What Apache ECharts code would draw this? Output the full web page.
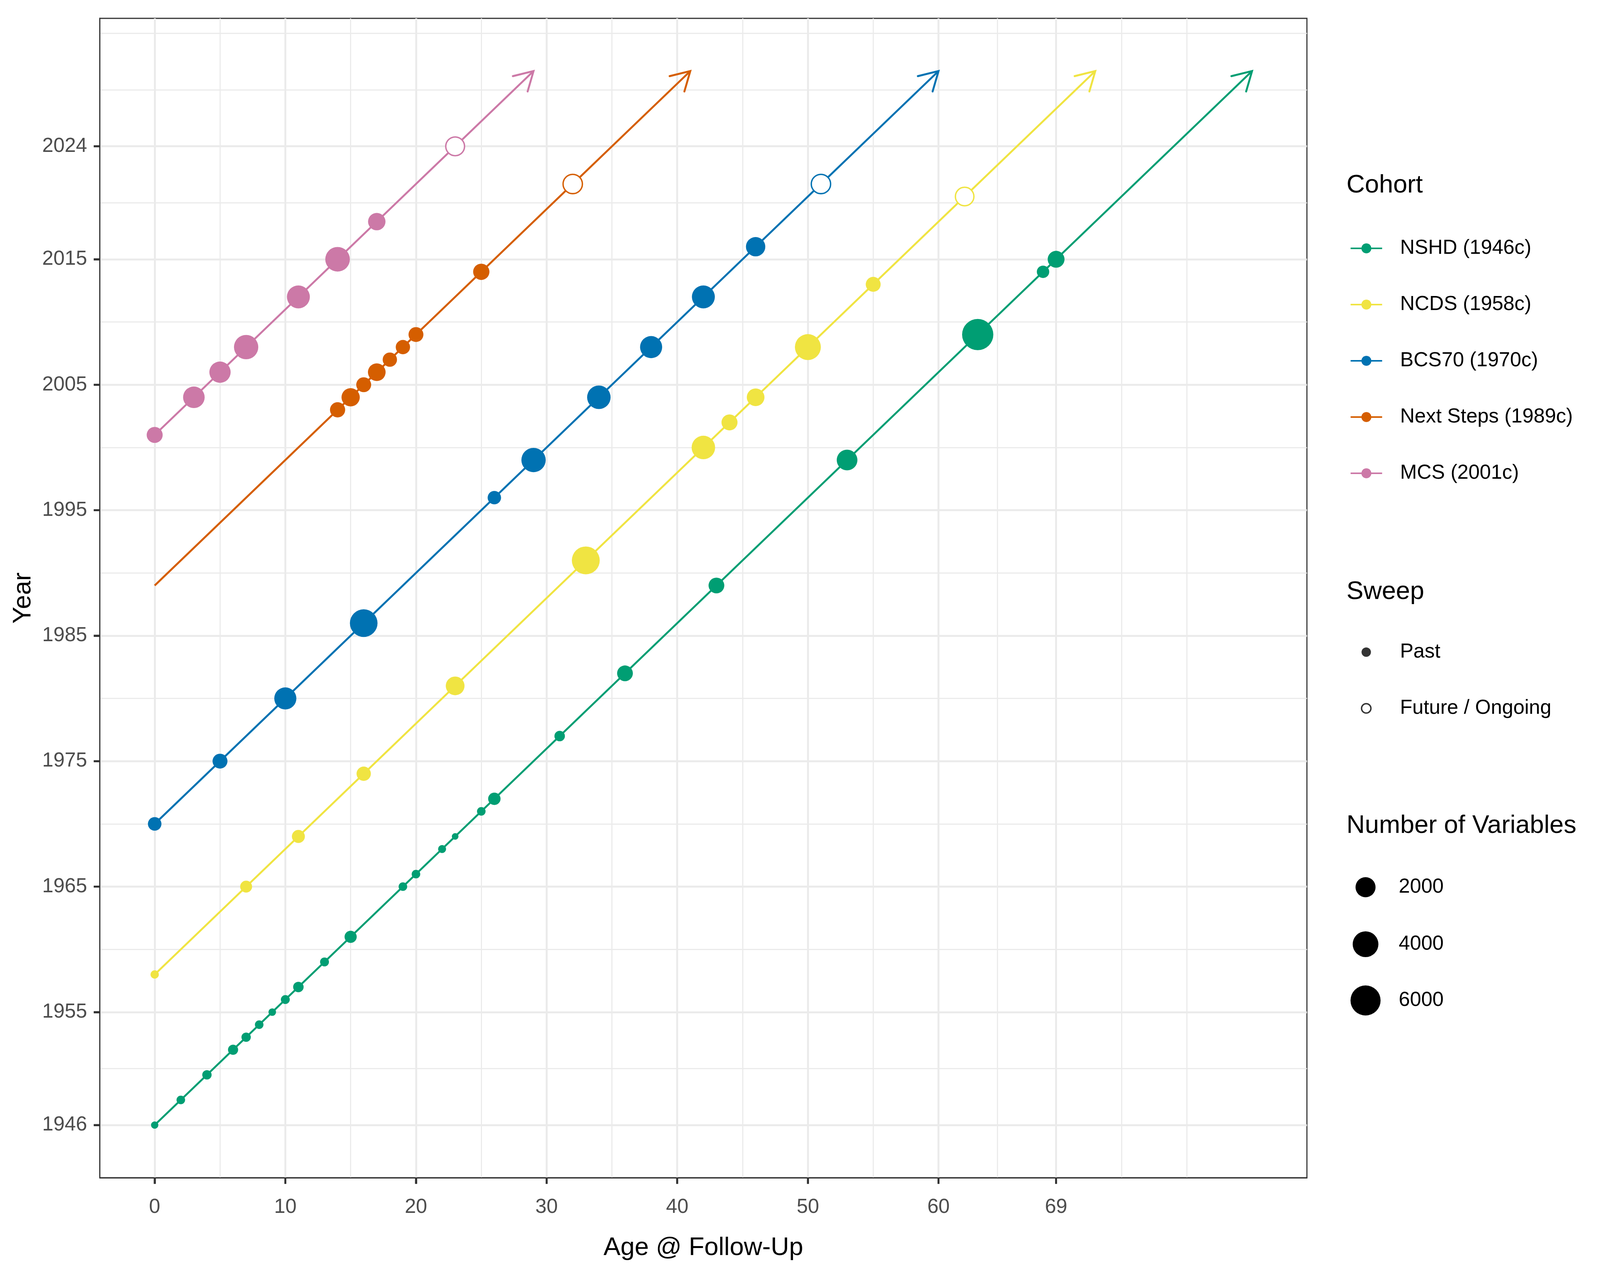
<!DOCTYPE html>
<html>
<head>
<meta charset="utf-8">
<title>Cohort sweeps by age and year</title>
<script src="https://cdn.jsdelivr.net/npm/echarts@6/dist/echarts.min.js"></script>
<style>
  html, body { margin: 0; padding: 0; background: #fff; overflow: hidden; }
  #chart { width: 100vw; height: 100vh; }
</style>
</head>
<body>
<div id="chart"></div>
<script>
'use strict';

/* Cohorts */
const cohorts = ['NSHD (1946c)', 'NCDS (1958c)', 'BCS70 (1970c)', 'Next Steps (1989c)', 'MCS (2001c)'];
const birthYears = [1946, 1958, 1970, 1989, 2001];
const colours = ['#009E73', '#F0E442', '#0072B2', '#D55E00', '#CC79A7'];
const lineEndYear = 2030;

/* Sweeps: age at follow-up, calendar year, number of variables, past (0) / future (1) */
const nshdAges = [0, 2, 4, 6, 7, 8, 9, 10, 11, 13, 15, 19, 20, 22, 23, 25, 26, 31, 36, 43, 53, 63, 68, 69];
const nshdYears = [1946, 1948, 1950, 1952, 1953, 1954, 1955, 1956, 1957, 1959, 1961, 1965, 1966, 1968, 1969, 1971, 1972, 1977, 1982, 1989, 1999, 2009, 2014, 2015];
const nshdVars = [65, 100, 140, 190, 140, 100, 70, 115, 220, 115, 390, 100, 100, 80, 60, 100, 420, 220, 960, 960, 2200, 6600, 420, 1190];
const nshdFuture = [0, 0, 0, 0, 0, 0, 0, 0, 0, 0, 0, 0, 0, 0, 0, 0, 0, 0, 0, 0, 0, 0, 0, 0];

const ncdsAges = [0, 7, 11, 16, 23, 33, 42, 44, 46, 50, 55, 62];
const ncdsYears = [1958, 1965, 1969, 1974, 1981, 1991, 2000, 2002, 2004, 2008, 2013, 2020];
const ncdsVars = [90, 360, 500, 700, 1650, 4950, 3130, 1010, 1380, 4100, 800, 1960];
const ncdsFuture = [0, 0, 0, 0, 0, 0, 0, 0, 0, 0, 0, 1];

const bcsAges = [0, 5, 10, 16, 26, 29, 34, 38, 42, 46, 51];
const bcsYears = [1970, 1975, 1980, 1986, 1996, 1999, 2004, 2008, 2012, 2016, 2021];
const bcsVars = [575, 800, 2650, 4830, 555, 3440, 3130, 2650, 2930, 1810, 2200];
const bcsFuture = [0, 0, 0, 0, 0, 0, 0, 0, 0, 0, 1];

const nsAges = [14, 15, 16, 17, 18, 19, 20, 25, 32];
const nsYears = [2003, 2004, 2005, 2006, 2007, 2008, 2009, 2014, 2021];
const nsVars = [850, 1520, 800, 1380, 700, 700, 800, 1070, 2200];
const nsFuture = [0, 0, 0, 0, 0, 0, 0, 0, 1];

const mcsAges = [0, 3, 5, 7, 11, 14, 17, 23];
const mcsYears = [2001, 2004, 2006, 2008, 2012, 2015, 2018, 2024];
const mcsVars = [1010, 2470, 2380, 3440, 2930, 3550, 1320, 2040];
const mcsFuture = [0, 0, 0, 0, 0, 0, 0, 1];

/* Axis breaks */
const ageTicks = [0, 10, 20, 30, 40, 50, 60, 69];
const ageMinor = [5, 15, 25, 35, 45, 55, 64.5, 74, 79];
const yearTicks = [1946, 1955, 1965, 1975, 1985, 1995, 2005, 2015, 2024];
const yearMinor = [1950.5, 1960, 1970, 1980, 1990, 2000, 2010, 2019.5, 2028.5, 2033];
const ageRange = [-4.2, 88.2];
const yearRange = [1941.8, 2034.2];

/* Size legend breaks */
const sizeBreaks = [2000, 4000, 6000];

const sweeps = [
  { ages: nshdAges, years: nshdYears, vars: nshdVars, future: nshdFuture },
  { ages: ncdsAges, years: ncdsYears, vars: ncdsVars, future: ncdsFuture },
  { ages: bcsAges, years: bcsYears, vars: bcsVars, future: bcsFuture },
  { ages: nsAges, years: nsYears, vars: nsVars, future: nsFuture },
  { ages: mcsAges, years: mcsYears, vars: mcsVars, future: mcsFuture },
];

const el = document.getElementById('chart');
// layout measured on a 5787 x 3283 canvas; scale to whatever the window really is
const sx = el.clientWidth / 5787;
const sy = el.clientHeight / 3283;
const s = Math.min(sx, sy);
const X = (v) => v * sx;
const Y = (v) => v * sy;
const P = (v) => v * s;

const FONT = '"Liberation Sans", Arial, Helvetica, sans-serif';

// area-style size scale, like ggplot's scale_size (diameter grows with sqrt)
const allVars = [].concat(nshdVars, ncdsVars, bcsVars, nsVars, mcsVars);
const vMin = Math.min(...allVars);
const vMax = Math.max(...allVars);
const dotSize = (v) => P(24 + 89 * Math.sqrt(Math.max(v - vMin, 0) / (vMax - vMin)));
const HOLLOW_STROKE = P(5);

const series = [];

// cohort lines, age 0 to the projection year
cohorts.forEach((name, i) => {
  const b = birthYears[i];
  series.push({
    type: 'line',
    name,
    data: [[0, b], [lineEndYear - b, lineEndYear]],
    symbol: 'circle',
    showSymbol: false,
    lineStyle: { color: colours[i], width: P(7) },
    itemStyle: { color: colours[i] },
    silent: true,
    z: 2,
  });
});

// open arrowheads at the end of each cohort line
series.push({
  type: 'custom',
  name: 'arrowheads',
  silent: true,
  z: 2,
  data: birthYears.map((b, i) => [lineEndYear - b, lineEndYear, 0, b, i]),
  encode: { x: 0, y: 1 },
  renderItem: (params, api) => {
    const tip = api.coord([api.value(0), api.value(1)]);
    const from = api.coord([api.value(2), api.value(3)]);
    const ang = Math.atan2(from[1] - tip[1], from[0] - tip[0]);
    const len = P(77);
    const spread = Math.PI / 6;
    const p1 = [tip[0] + len * Math.cos(ang + spread), tip[1] + len * Math.sin(ang + spread)];
    const p2 = [tip[0] + len * Math.cos(ang - spread), tip[1] + len * Math.sin(ang - spread)];
    return {
      type: 'polyline',
      shape: { points: [p1, tip, p2] },
      style: { stroke: colours[api.value(4)], lineWidth: P(7), fill: null, lineCap: 'round', lineJoin: 'miter' },
    };
  },
});

// sweep points: filled for past, open for future / ongoing
sweeps.forEach((sw, i) => {
  const past = [];
  const fut = [];
  sw.ages.forEach((a, k) => {
    (sw.future[k] ? fut : past).push([a, sw.years[k], sw.vars[k]]);
  });
  series.push({
    type: 'scatter',
    name: cohorts[i] + ' sweeps',
    data: past,
    symbol: 'circle',
    symbolSize: (val) => dotSize(val[2]),
    itemStyle: { color: colours[i], opacity: 1 },
    silent: true,
    z: 3,
  });
  if (fut.length) {
    series.push({
      type: 'scatter',
      name: cohorts[i] + ' future',
      data: fut,
      symbol: 'circle',
      symbolSize: (val) => dotSize(val[2]) - HOLLOW_STROKE,
      itemStyle: { color: '#ffffff', borderColor: colours[i], borderWidth: HOLLOW_STROKE, opacity: 1 },
      silent: true,
      z: 3,
    });
  }
});

// empty series that only feed the Sweep and size legends
series.push({ type: 'scatter', name: 'Past', data: [], itemStyle: { color: '#333333', opacity: 1 } });
series.push({ type: 'scatter', name: 'Future / Ongoing', data: [],
  itemStyle: { color: '#ffffff', borderColor: '#333333', borderWidth: P(5), opacity: 1 } });
sizeBreaks.forEach((v) => {
  series.push({ type: 'scatter', name: String(v), data: [], itemStyle: { color: '#000000', opacity: 1 } });
});

// legend rows: text box is P(80) tall, so a row centre sits P(40) below its top
const ROW_H = 80;
const legendText = (iconLeft, iconW, textLeft) => ({
  fontFamily: FONT, fontSize: P(73), color: '#000', lineHeight: P(ROW_H),
  padding: [0, 0, 0, Math.max(X(textLeft) - (X(iconLeft) + P(iconW) + 5), 0)],
});

const legends = [
  {
    data: cohorts,
    orient: 'vertical',
    left: X(4882), top: Y(636) - P(ROW_H / 2),
    padding: 0,
    itemWidth: P(114), itemHeight: P(45), itemGap: Y(144) - P(ROW_H),
    lineStyle: { width: P(6) },
    selectedMode: false,
    textStyle: legendText(4882, 114, 5061),
  },
  {
    data: [
      { name: 'Past', icon: 'circle', itemStyle: { color: '#333333', borderWidth: 0, opacity: 1 } },
      { name: 'Future / Ongoing', icon: 'circle',
        itemStyle: { color: '#ffffff', borderColor: '#333333', borderWidth: P(5), opacity: 1 } },
    ],
    orient: 'vertical',
    left: X(4939) - P(17), top: Y(1670) - P(ROW_H / 2),
    padding: 0,
    itemWidth: P(34), itemHeight: P(34), itemGap: Y(144) - P(ROW_H),
    selectedMode: false,
    textStyle: legendText(4939 - 17 * s / sx, 34, 5061),
  },
];
const sizeCentres = [2272, 2418, 2562];
sizeBreaks.forEach((v, k) => {
  const d = dotSize(v);
  legends.push({
    data: [{ name: String(v), icon: 'circle', itemStyle: { color: '#000000', opacity: 1 } }],
    orient: 'vertical',
    left: X(4939) - d / 2, top: Y(sizeCentres[k]) - Math.max(d, P(ROW_H)) / 2,
    padding: 0,
    itemWidth: d, itemHeight: d,
    selectedMode: false,
    textStyle: {
      fontFamily: FONT, fontSize: P(73), color: '#000', lineHeight: P(ROW_H),
      padding: [0, 0, 0, Math.max(X(5059) - (X(4939) + d / 2 + 5), 0)],
    },
  });
});

const titleAt = (text, centreY) => ({
  text,
  left: X(4870), top: Y(centreY) - P(50),
  padding: 0,
  textStyle: { fontFamily: FONT, fontSize: P(92), fontWeight: 'normal', color: '#000', lineHeight: P(100) },
});

const tickLabel = { fontFamily: FONT, fontSize: P(73), color: '#4D4D4D' };
const majorLine = { show: true, lineStyle: { color: '#EBEBEB', width: P(7) } };
const minorLine = { show: true, lineStyle: { color: '#EBEBEB', width: P(4) } };
const tickStyle = { color: '#333333', width: P(7) };
const frameLine = { show: true, onZero: false, lineStyle: { color: '#333333', width: P(4) } };

const option = {
  animation: false,
  backgroundColor: '#ffffff',
  title: [titleAt('Cohort', 475), titleAt('Sweep', 1516), titleAt('Number of Variables', 2115)],
  legend: legends,
  grid: {
    show: true, borderColor: '#333333', borderWidth: P(4), backgroundColor: 'transparent',
    left: X(361), top: Y(47), width: X(4366), height: Y(2969),
  },
  xAxis: [
    {
      type: 'value', min: ageRange[0], max: ageRange[1], position: 'bottom',
      name: 'Age @ Follow-Up', nameLocation: 'middle', nameGap: Y(148),
      nameTextStyle: { fontFamily: FONT, fontSize: P(92), color: '#000' },
      axisLine: frameLine,
      axisTick: { show: true, inside: false, customValues: ageTicks, length: P(22), lineStyle: tickStyle },
      axisLabel: { show: true, customValues: ageTicks, margin: Y(50), formatter: (v) => String(v), ...tickLabel },
      splitLine: majorLine,
    },
    {
      type: 'value', min: ageRange[0], max: ageRange[1], position: 'bottom',
      axisLine: { show: false, onZero: false },
      axisTick: { show: false, customValues: ageMinor },
      axisLabel: { show: false, customValues: ageMinor },
      splitLine: minorLine,
    },
  ],
  yAxis: [
    {
      type: 'value', min: yearRange[0], max: yearRange[1], position: 'left',
      name: 'Year', nameLocation: 'middle', nameGap: X(230),
      nameTextStyle: { fontFamily: FONT, fontSize: P(92), color: '#000' },
      axisLine: frameLine,
      axisTick: { show: true, inside: false, customValues: yearTicks, length: P(22), lineStyle: tickStyle },
      axisLabel: { show: true, customValues: yearTicks, margin: X(46), formatter: (v) => String(v), ...tickLabel },
      splitLine: majorLine,
    },
    {
      type: 'value', min: yearRange[0], max: yearRange[1], position: 'left',
      axisLine: { show: false, onZero: false },
      axisTick: { show: false, customValues: yearMinor },
      axisLabel: { show: false, customValues: yearMinor },
      splitLine: minorLine,
    },
  ],
  series,
};

const chart = echarts.init(el, null, { renderer: 'canvas' });
chart.setOption(option);

/* Outward tick marks at the panel edge, placed through the axis scales */
const TICK_LEN = P(22);
const tickMark = (x1, y1, x2, y2) => ({
  type: 'line',
  silent: true,
  z: 100,
  shape: { x1, y1, x2, y2 },
  style: { stroke: '#333333', lineWidth: P(7) },
});
const ticks = [];
ageTicks.forEach((v) => {
  const p = chart.convertToPixel({ xAxisIndex: 0, yAxisIndex: 0 }, [v, yearRange[0]]);
  ticks.push(tickMark(p[0], p[1], p[0], p[1] + TICK_LEN));
});
yearTicks.forEach((v) => {
  const p = chart.convertToPixel({ xAxisIndex: 0, yAxisIndex: 0 }, [ageRange[0], v]);
  ticks.push(tickMark(p[0], p[1], p[0] - TICK_LEN, p[1]));
});
chart.setOption({ graphic: ticks });

window.addEventListener('resize', () => chart.resize());
</script>
</body>
</html>
